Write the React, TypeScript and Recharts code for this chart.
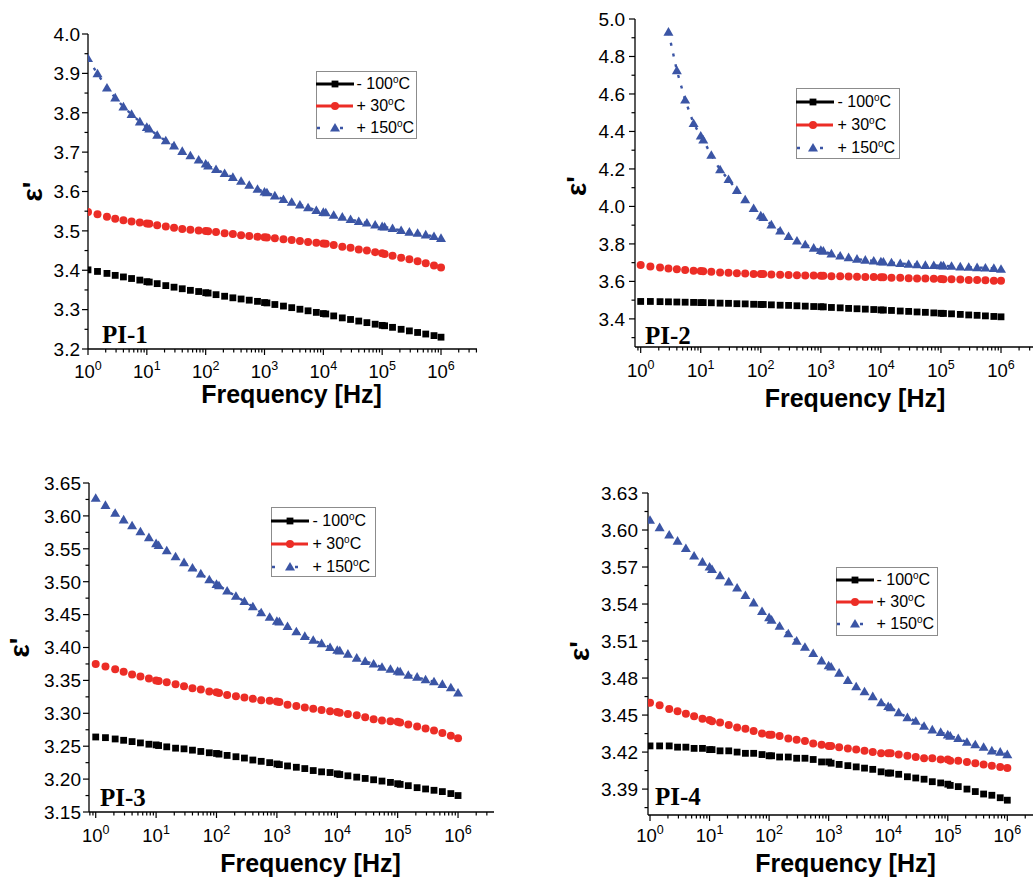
import React from 'react';
import { LineChart, Line, XAxis, YAxis, Legend } from 'recharts';

// ---------------- data ----------------
const FREQ = [
  1, 1.45, 2.1, 2.9, 4, 5.5, 7.6,
  10, 11, 15, 21, 29, 40, 55, 76,
  100, 110, 150, 210, 290, 400, 550, 760,
  1000, 1100, 1500, 2100, 2900, 4000, 5500, 7600,
  1e4, 1.1e4, 1.5e4, 2.1e4, 2.9e4, 4e4, 5.5e4, 7.6e4,
  1e5, 1.1e5, 1.5e5, 2.1e5, 2.9e5, 4e5, 5.5e5, 7.6e5,
  1e6,
];

const SERIES_NAMES = ['- 100', '+ 30', '+ 150'];

const PI1_BLACK = [3.401, 3.397, 3.392, 3.387, 3.383, 3.379, 3.375, 3.371, 3.370, 3.366, 3.361, 3.357, 3.353, 3.349, 3.346, 3.343, 3.342, 3.338, 3.334, 3.330, 3.327, 3.324, 3.321, 3.318, 3.317, 3.313, 3.309, 3.305, 3.301, 3.297, 3.293, 3.290, 3.289, 3.284, 3.279, 3.275, 3.271, 3.267, 3.263, 3.260, 3.259, 3.255, 3.250, 3.246, 3.242, 3.238, 3.234, 3.230];
const PI1_RED = [3.548, 3.542, 3.536, 3.531, 3.527, 3.524, 3.521, 3.519, 3.518, 3.514, 3.511, 3.508, 3.505, 3.503, 3.501, 3.500, 3.499, 3.497, 3.494, 3.492, 3.489, 3.487, 3.485, 3.484, 3.483, 3.481, 3.479, 3.477, 3.474, 3.472, 3.470, 3.468, 3.467, 3.464, 3.460, 3.457, 3.453, 3.450, 3.446, 3.443, 3.441, 3.437, 3.432, 3.428, 3.423, 3.418, 3.412, 3.407];
const PI1_BLUE = [3.938, 3.899, 3.863, 3.838, 3.815, 3.796, 3.777, 3.763, 3.759, 3.743, 3.729, 3.716, 3.702, 3.691, 3.680, 3.670, 3.665, 3.656, 3.646, 3.636, 3.626, 3.616, 3.606, 3.599, 3.597, 3.589, 3.580, 3.573, 3.566, 3.559, 3.552, 3.547, 3.546, 3.540, 3.535, 3.529, 3.524, 3.520, 3.515, 3.511, 3.510, 3.506, 3.501, 3.497, 3.494, 3.490, 3.486, 3.481];

const PI2_BLACK = [3.493, 3.493, 3.492, 3.491, 3.490, 3.489, 3.488, 3.487, 3.487, 3.486, 3.484, 3.483, 3.481, 3.480, 3.478, 3.477, 3.477, 3.475, 3.473, 3.472, 3.470, 3.468, 3.466, 3.465, 3.464, 3.461, 3.459, 3.456, 3.454, 3.452, 3.450, 3.448, 3.447, 3.445, 3.442, 3.440, 3.437, 3.435, 3.432, 3.430, 3.429, 3.427, 3.424, 3.421, 3.419, 3.416, 3.413, 3.411];
const PI2_RED = [3.687, 3.680, 3.674, 3.669, 3.665, 3.661, 3.657, 3.655, 3.654, 3.651, 3.648, 3.646, 3.644, 3.642, 3.640, 3.639, 3.639, 3.637, 3.636, 3.634, 3.633, 3.632, 3.631, 3.630, 3.630, 3.628, 3.627, 3.626, 3.625, 3.624, 3.623, 3.622, 3.622, 3.620, 3.619, 3.617, 3.616, 3.615, 3.614, 3.613, 3.612, 3.611, 3.610, 3.608, 3.607, 3.606, 3.604, 3.603];
const PI2_BLUE = [null, null, null, 4.93, 4.725, 4.568, 4.443, 4.376, 4.355, 4.273, 4.196, 4.144, 4.086, 4.036, 3.989, 3.950, 3.941, 3.902, 3.869, 3.840, 3.816, 3.796, 3.778, 3.766, 3.762, 3.747, 3.736, 3.727, 3.719, 3.714, 3.709, 3.705, 3.704, 3.700, 3.696, 3.692, 3.689, 3.686, 3.685, 3.684, 3.683, 3.681, 3.678, 3.676, 3.674, 3.672, 3.670, 3.665];

const PI3_BLACK = [3.264, 3.263, 3.261, 3.259, 3.257, 3.255, 3.253, 3.252, 3.251, 3.249, 3.247, 3.246, 3.244, 3.242, 3.240, 3.239, 3.238, 3.236, 3.234, 3.232, 3.229, 3.227, 3.225, 3.223, 3.222, 3.220, 3.218, 3.216, 3.213, 3.211, 3.210, 3.208, 3.207, 3.205, 3.203, 3.201, 3.199, 3.197, 3.195, 3.193, 3.192, 3.190, 3.187, 3.185, 3.183, 3.181, 3.178, 3.175];
const PI3_RED = [3.375, 3.371, 3.367, 3.363, 3.359, 3.356, 3.353, 3.350, 3.349, 3.347, 3.344, 3.341, 3.338, 3.336, 3.333, 3.332, 3.331, 3.328, 3.326, 3.324, 3.322, 3.320, 3.319, 3.318, 3.317, 3.313, 3.311, 3.309, 3.307, 3.305, 3.303, 3.302, 3.301, 3.299, 3.297, 3.294, 3.291, 3.289, 3.288, 3.287, 3.286, 3.283, 3.280, 3.277, 3.274, 3.270, 3.266, 3.262];
const PI3_BLUE = [3.627, 3.616, 3.604, 3.594, 3.585, 3.576, 3.567, 3.558, 3.555, 3.547, 3.538, 3.529, 3.521, 3.512, 3.503, 3.496, 3.494, 3.486, 3.478, 3.470, 3.462, 3.453, 3.446, 3.440, 3.439, 3.432, 3.424, 3.417, 3.411, 3.406, 3.400, 3.396, 3.395, 3.390, 3.384, 3.379, 3.375, 3.370, 3.367, 3.364, 3.363, 3.358, 3.355, 3.351, 3.348, 3.344, 3.339, 3.331];

const PI4_BLACK = [3.425, 3.425, 3.425, 3.424, 3.424, 3.423, 3.423, 3.422, 3.422, 3.421, 3.421, 3.420, 3.419, 3.419, 3.418, 3.417, 3.417, 3.416, 3.416, 3.415, 3.415, 3.414, 3.412, 3.412, 3.411, 3.410, 3.409, 3.408, 3.407, 3.406, 3.404, 3.403, 3.403, 3.402, 3.400, 3.399, 3.398, 3.396, 3.395, 3.394, 3.393, 3.392, 3.390, 3.388, 3.386, 3.385, 3.383, 3.381];
const PI4_RED = [3.460, 3.458, 3.455, 3.453, 3.451, 3.449, 3.447, 3.446, 3.445, 3.444, 3.442, 3.440, 3.439, 3.437, 3.435, 3.434, 3.434, 3.433, 3.431, 3.430, 3.429, 3.427, 3.426, 3.425, 3.425, 3.424, 3.423, 3.422, 3.421, 3.420, 3.419, 3.419, 3.419, 3.418, 3.417, 3.416, 3.415, 3.415, 3.414, 3.414, 3.413, 3.413, 3.412, 3.411, 3.410, 3.409, 3.408, 3.407];
const PI4_BLUE = [3.608, 3.602, 3.596, 3.591, 3.585, 3.579, 3.574, 3.570, 3.568, 3.563, 3.558, 3.553, 3.547, 3.541, 3.534, 3.529, 3.527, 3.522, 3.516, 3.510, 3.505, 3.500, 3.494, 3.490, 3.489, 3.484, 3.478, 3.473, 3.469, 3.465, 3.460, 3.457, 3.456, 3.452, 3.448, 3.445, 3.441, 3.438, 3.436, 3.434, 3.433, 3.431, 3.428, 3.426, 3.424, 3.421, 3.420, 3.418];

// tick labels
const X_MAJOR = [1, 10, 100, 1000, 1e4, 1e5, 1e6];
const X_MINOR_STEPS = [2, 3, 4, 5, 6, 7, 8, 9];
const Y1_MAJOR = [3.2, 3.3, 3.4, 3.5, 3.6, 3.7, 3.8, 3.9, 4.0];
const Y1_MINOR = [3.25, 3.35, 3.45, 3.55, 3.65, 3.75, 3.85, 3.95];
const Y2_MAJOR = [3.4, 3.6, 3.8, 4.0, 4.2, 4.4, 4.6, 4.8, 5.0];
const Y2_MINOR = [3.3, 3.5, 3.7, 3.9, 4.1, 4.3, 4.5, 4.7, 4.9];
const Y3_MAJOR = [3.15, 3.2, 3.25, 3.3, 3.35, 3.4, 3.45, 3.5, 3.55, 3.6, 3.65];
const Y3_MINOR = [3.175, 3.225, 3.275, 3.325, 3.375, 3.425, 3.475, 3.525, 3.575, 3.625];
const Y4_MAJOR = [3.39, 3.42, 3.45, 3.48, 3.51, 3.54, 3.57, 3.6, 3.63];
const Y4_MINOR = [3.375, 3.405, 3.435, 3.465, 3.495, 3.525, 3.555, 3.585, 3.615];

// ---------------- style ----------------
const BLACK = '#000000';
const RED = '#ec2d26';
const BLUE = '#3b55a5';
const SANS = "'Liberation Sans', Arial, sans-serif";
const SERIF = "'Liberation Serif', 'Times New Roman', serif";

const buildRows = (a: number[], b: number[], c: (number | null)[]) =>
  FREQ.map((f, i) => ({ f, a: a[i], b: b[i], c: c[i] }));

const xTicks = (domain: number[]) => {
  const out: number[] = [];
  [0.1, ...X_MAJOR].forEach((d) => {
    if (d >= domain[0] && d <= domain[1]) out.push(d);
    X_MINOR_STEPS.forEach((m) => {
      const v = d * m;
      if (v >= domain[0] && v <= domain[1]) out.push(v);
    });
  });
  return out;
};

const PANELS = [
  {
    name: 'PI-1', rows: buildRows(PI1_BLACK, PI1_RED, PI1_BLUE),
    left: 0, top: 0, width: 516, height: 430,
    margin: { top: 34, right: 39, left: 0, bottom: 0 }, yW: 88, xH: 81,
    xDomain: [1, 4.09e6], yDomain: [3.2, 4.0], yMajor: Y1_MAJOR, yMinor: Y1_MINOR, digits: 1,
    yGap: 8, xLabelDy: 29, titleDx: 9, titleDy: 54, epsDx: 56, epsDy: 0, piDx: 14, piDy: 6,
    legend: { x: 316, y: 71, w: 101, h: 68, row0: 13, rowH: 22, mark: 19, textX: 41 },
  },
  {
    name: 'PI-2', rows: buildRows(PI2_BLACK, PI2_RED, PI2_BLUE),
    left: 516, top: 0, width: 517, height: 430,
    margin: { top: 19, right: 0, left: 0, bottom: 0 }, yW: 119, xH: 83,
    xDomain: [0.804, 3.41e6], yDomain: [3.25, 5.0], yMajor: Y2_MAJOR, yMinor: Y2_MINOR, digits: 1,
    yGap: 10, xLabelDy: 30, titleDx: 21, titleDy: 60, epsDx: 59, epsDy: 3, piDx: 10, piDy: 3,
    legend: { x: 280, y: 88, w: 104, h: 71, row0: 14, rowH: 23, mark: 17, textX: 42 },
  },
  {
    name: 'PI-3', rows: buildRows(PI3_BLACK, PI3_RED, PI3_BLUE),
    left: 0, top: 440, width: 516, height: 438,
    margin: { top: 43, right: 22, left: 0, bottom: 0 }, yW: 89, xH: 66,
    xDomain: [0.774, 3.94e6], yDomain: [3.15, 3.65], yMajor: Y3_MAJOR, yMinor: Y3_MINOR, digits: 2,
    yGap: 8, xLabelDy: 30, titleDx: 19, titleDy: 60, epsDx: 70, epsDy: 0, piDx: 11, piDy: 6,
    legend: { x: 271, y: 67, w: 105, h: 70, row0: 14, rowH: 23, mark: 19, textX: 42 },
  },
  {
    name: 'PI-4', rows: buildRows(PI4_BLACK, PI4_RED, PI4_BLUE),
    left: 516, top: 440, width: 517, height: 438,
    margin: { top: 53, right: 0, left: 0, bottom: 0 }, yW: 132, xH: 63,
    xDomain: [0.925, 2.7e6], yDomain: [3.369, 3.63], yMajor: Y4_MAJOR, yMinor: Y4_MINOR, digits: 2,
    yGap: 10, xLabelDy: 27, titleDx: 5, titleDy: 57, epsDx: 69, epsDy: -3, piDx: 7, piDy: 10,
    legend: { x: 320, y: 127, w: 102, h: 69, row0: 13.5, rowH: 22, mark: 19, textX: 41 },
  },
];

// ---------------- marks ----------------
const squareDot = (props: any) => {
  const { cx, cy, index } = props;
  if (cx == null || cy == null) return <g key={`s${index}`} />;
  return <rect key={`s${index}`} x={cx - 3.4} y={cy - 3.4} width={6.8} height={6.8} fill={BLACK} />;
};
const circleDot = (props: any) => {
  const { cx, cy, index } = props;
  if (cx == null || cy == null) return <g key={`c${index}`} />;
  return <circle key={`c${index}`} cx={cx} cy={cy} r={4} fill={RED} />;
};
const triPoints = (cx: number, cy: number) =>
  `${cx},${cy - 5} ${cx + 5},${cy + 3.6} ${cx - 5},${cy + 3.6}`;
const triDot = (props: any) => {
  const { cx, cy, index } = props;
  if (cx == null || cy == null) return <g key={`t${index}`} />;
  return <polygon key={`t${index}`} points={triPoints(cx, cy)} fill={BLUE} />;
};

// ---------------- ticks ----------------
const XTick = (props: any) => {
  const { x, y, payload, labelDy } = props;
  const v = payload.value;
  const lg = Math.log10(v);
  const major = Math.abs(lg - Math.round(lg)) < 1e-6;
  return (
    <g>
      <line x1={x} x2={x} y1={y} y2={y + (major ? 6 : 3.5)} stroke="#000" strokeWidth={1.2} />
      {major && (
        <text x={x} y={y + labelDy} textAnchor="middle" fontSize={18.5} fontFamily={SANS} fill="#000">
          10
          <tspan dy={-8} fontSize={12.5}>{Math.round(lg)}</tspan>
        </text>
      )}
    </g>
  );
};

const YTick = (props: any) => {
  const { x, y, payload, majors, digits, gap } = props;
  const v = payload.value;
  const major = majors.some((m: number) => Math.abs(m - v) < 1e-9);
  return (
    <g>
      <line x1={x - (major ? 6 : 3.5)} x2={x} y1={y} y2={y} stroke="#000" strokeWidth={1.2} />
      {major && (
        <text x={x - gap} y={y} dy="0.36em" textAnchor="end" fontSize={19} fontFamily={SANS} fill="#000">
          {v.toFixed(digits)}
        </text>
      )}
    </g>
  );
};

// ---------------- labels ----------------
const plotBox = (p: any) => {
  const pl = p.margin.left + p.yW;
  const pt = p.margin.top;
  const pr = p.width - p.margin.right;
  const pb = p.height - p.xH;
  return { pl, pt, pr, pb };
};

const XTitle = (props: any) => {
  const { p } = props;
  const b = plotBox(p);
  return (
    <text x={(b.pl + b.pr) / 2 + p.titleDx} y={b.pb + p.titleDy} textAnchor="middle" fontSize={25}
      fontWeight="bold" fontFamily={SANS} fill="#000">
      Frequency [Hz]
    </text>
  );
};

const YTitle = (props: any) => {
  const { p } = props;
  const b = plotBox(p);
  const cx = b.pl - p.epsDx;
  const cy = (b.pt + b.pb) / 2 + p.epsDy;
  return (
    <g>
      <text x={cx} y={cy} transform={`rotate(-90, ${cx}, ${cy})`} textAnchor="middle" dominantBaseline="central"
        fontSize={28} fontWeight="bold" fontFamily={SANS} fill="#000">
        ε'
      </text>
      <text x={b.pl + p.piDx} y={b.pb - p.piDy} fontSize={25} fontWeight="bold" fontFamily={SERIF} fill="#000">
        {p.name}
      </text>
    </g>
  );
};

// ---------------- legend ----------------
const LegendSample = ({ i, mark }: any) => {
  const cy = 8;
  if (i === 0) {
    return (
      <g>
        <line x1={0} x2={38} y1={cy} y2={cy} stroke={BLACK} strokeWidth={2.8} />
        <rect x={mark - 3.4} y={cy - 3.4} width={6.8} height={6.8} fill={BLACK} />
      </g>
    );
  }
  if (i === 1) {
    return (
      <g>
        <line x1={0} x2={37} y1={cy} y2={cy} stroke={RED} strokeWidth={2.8} />
        <circle cx={mark} cy={cy} r={4} fill={RED} />
      </g>
    );
  }
  return (
    <g>
      <line x1={1} x2={28} y1={cy} y2={cy} stroke={BLUE} strokeWidth={2.6} strokeDasharray="3 20" />
      <polygon points={triPoints(mark, cy)} fill={BLUE} />
    </g>
  );
};

const LegendBox = ({ cfg }: any) => (
  <div
    style={{
      position: 'relative', width: cfg.w, height: cfg.h, boxSizing: 'border-box',
      border: '1.5px solid #8c8c8c', background: '#fff', fontFamily: SANS,
    }}
  >
    {SERIES_NAMES.map((name, i) => (
      <div key={name} style={{ position: 'absolute', left: -1.5, top: cfg.row0 + i * cfg.rowH - 9.5, width: cfg.w, height: 16 }}>
        <svg width={40} height={16} style={{ position: 'absolute', left: 0, top: 0, overflow: 'visible' }}>
          <LegendSample i={i} mark={cfg.mark} />
        </svg>
        <span
          style={{
            position: 'absolute', left: cfg.textX, top: -1, fontSize: 16, lineHeight: '17px',
            whiteSpace: 'nowrap', color: '#000',
          }}
        >
          {name}
          <span style={{ fontSize: 10, position: 'relative', top: -6 }}>o</span>C
        </span>
      </div>
    ))}
  </div>
);

// ---------------- panel ----------------
const Panel = ({ p }: any) => (
  <div style={{ position: 'absolute', left: p.left, top: p.top }}>
    <LineChart width={p.width} height={p.height} data={p.rows} margin={p.margin}>
      <XAxis
        dataKey="f" type="number" scale="log" domain={p.xDomain} allowDataOverflow
        ticks={xTicks(p.xDomain)} interval={0} tickLine={false} tickSize={0} tickMargin={0}
        height={p.xH} axisLine={{ stroke: '#000', strokeWidth: 1.3 }}
        tick={(tp: any) => <XTick {...tp} labelDy={p.xLabelDy} />}
        label={<XTitle p={p} />}
      />
      <YAxis
        type="number" domain={p.yDomain} allowDataOverflow
        ticks={[...p.yMajor, ...p.yMinor].sort((a: number, b: number) => a - b)} interval={0}
        tickLine={false} tickSize={0} tickMargin={0} width={p.yW}
        axisLine={{ stroke: '#000', strokeWidth: 1.3 }}
        tick={(tp: any) => <YTick {...tp} majors={p.yMajor} digits={p.digits} gap={p.yGap} />}
        label={<YTitle p={p} />}
      />
      <Legend
        layout="horizontal" verticalAlign="middle" align="center"
        wrapperStyle={{ left: p.legend.x, top: p.legend.y, width: p.legend.w, height: p.legend.h }}
        content={() => <LegendBox cfg={p.legend} />}
      />
      <Line dataKey="a" name={SERIES_NAMES[0]} stroke="none" dot={squareDot} activeDot={false}
        isAnimationActive={false} />
      <Line dataKey="b" name={SERIES_NAMES[1]} stroke="none" dot={circleDot} activeDot={false}
        isAnimationActive={false} />
      <Line dataKey="c" name={SERIES_NAMES[2]} stroke={BLUE} strokeWidth={2.4} strokeDasharray="3 8"
        dot={triDot} activeDot={false} isAnimationActive={false} />
    </LineChart>
  </div>
);

export default function App() {
  return (
    <div style={{ position: 'absolute', left: 0, top: 0, width: 1033, height: 878, background: '#fff', overflow: 'hidden' }}>
      {PANELS.map((p) => (
        <Panel key={p.name} p={p} />
      ))}
    </div>
  );
}
